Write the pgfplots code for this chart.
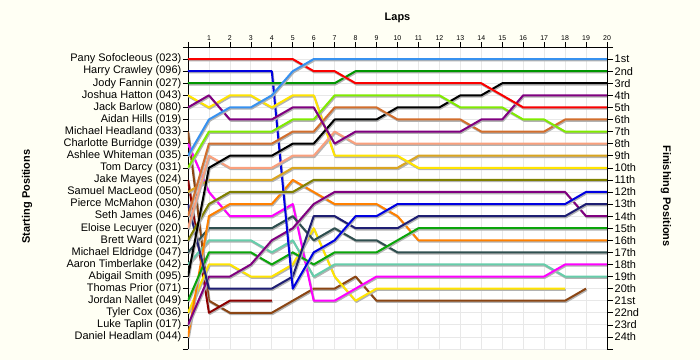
\documentclass[border=0pt]{standalone}
\usepackage{fontspec}
\setmainfont{Liberation Sans}
\usepackage{pgfplots}
\pgfplotsset{compat=1.18}
\definecolor{bgcream}{RGB}{255,255,244}
\definecolor{cRed}{RGB}{250,0,0}
\definecolor{cBlue}{RGB}{0,0,225}
\definecolor{cGreen}{RGB}{0,150,0}
\definecolor{cYellow}{RGB}{255,228,0}
\definecolor{cPurple}{RGB}{128,0,128}
\definecolor{cBrown}{RGB}{139,69,19}
\definecolor{cMagenta}{RGB}{255,0,255}
\definecolor{cSky}{RGB}{55,145,240}
\definecolor{cLawn}{RGB}{128,235,0}
\definecolor{cMaroon}{RGB}{140,0,0}
\definecolor{cGold}{RGB}{218,165,32}
\definecolor{cNavy}{RGB}{30,30,115}
\definecolor{cChoc}{RGB}{210,110,45}
\definecolor{cSalmon}{RGB}{250,160,125}
\definecolor{cOlive}{RGB}{128,128,0}
\definecolor{cSlate}{RGB}{47,79,79}
\definecolor{cAqua}{RGB}{102,205,170}
\definecolor{cBlack}{RGB}{0,0,0}
\definecolor{cGreenB}{RGB}{10,165,10}
\definecolor{cOrange}{RGB}{255,128,0}
\begin{document}
\begin{tikzpicture}
\fill[bgcream] (-188bp,-11bp) rectangle (512bp,349bp);
\begin{axis}[
  scale only axis, width=419bp, height=302bp,
  xmin=0, xmax=20, ymin=0, ymax=25, y dir=reverse,
  axis x line*=top, axis y line*=left,
  axis line style={black, line width=0.8bp, -},
  xtick={0,...,20},
  xticklabels={{},1,2,3,4,5,6,7,8,9,10,11,12,13,14,15,16,17,18,19,20},
  ytick={0,...,25},
  yticklabels={{},Pany Sofocleous (023),Harry Crawley (096),Jody Fannin (027),Joshua Hatton (043),Jack Barlow (080),Aidan Hills (019),Michael Headland (033),Charlotte Burridge (039),Ashlee Whiteman (035),Tom Darcy (031),Jake Mayes (024),Samuel MacLeod (050),Pierce McMahon (030),Seth James (046),Eloise Lecuyer (020),Brett Ward (021),Michael Eldridge (047),Aaron Timberlake (042),Abigail Smith (095),Thomas Prior (071),Jordan Nallet (049),Tyler Cox (036),Luke Taplin (017),Daniel Headlam (044),{}},
  tick align=outside, major tick length=5bp,
  tick style={black, line width=0.6bp},
  grid=major, major grid style={black!9, line width=0.7bp},
  axis background/.style={fill=white},
  xticklabel style={font=\fontsize{7}{8}\selectfont, inner sep=1bp},
  yticklabel style={font=\fontsize{11}{12}\selectfont, inner sep=1.5bp},
  every axis plot/.append style={line width=2bp, line join=round, no markers,
     preaction={draw=black!30, transform canvas={xshift=0.8bp,yshift=-1.3bp}}},
]
\addplot[cBrown] coordinates {(0,7)(1,21)(2,22)(3,22)(4,22)(5,21)(6,20)(7,20)(8,19)(9,21)(10,21)(11,21)(12,21)(13,21)(14,21)(15,21)(16,21)(17,21)(18,21)(19,20)};
\addplot[cMaroon] coordinates {(0,11)(1,22)(2,21)(3,21)(4,21)};
\addplot[cYellow] coordinates {(0,22)(1,18)(2,18)(3,19)(4,19)(5,18)(6,15)(7,19)(8,21)(9,20)(10,20)(11,20)(12,20)(13,20)(14,20)(15,20)(16,20)(17,20)(18,20)};
\addplot[cAqua] coordinates {(0,18)(1,16)(2,16)(3,16)(4,17)(5,16)(6,19)(7,18)(8,18)(9,18)(10,18)(11,18)(12,18)(13,18)(14,18)(15,18)(16,18)(17,18)(18,19)(19,19)(20,19)};
\addplot[cMagenta] coordinates {(0,8)(1,12)(2,14)(3,14)(4,14)(5,13)(6,21)(7,21)(8,20)(9,19)(10,19)(11,19)(12,19)(13,19)(14,19)(15,19)(16,19)(17,19)(18,18)(19,18)(20,18)};
\addplot[cSlate] coordinates {(0,17)(1,15)(2,15)(3,15)(4,15)(5,14)(6,16)(7,15)(8,16)(9,16)(10,17)(11,17)(12,17)(13,17)(14,17)(15,17)(16,17)(17,17)(18,17)(19,17)(20,17)};
\addplot[cOrange] coordinates {(0,24)(1,14)(2,13)(3,13)(4,13)(5,11)(6,12)(7,13)(8,13)(9,13)(10,14)(11,16)(12,16)(13,16)(14,16)(15,16)(16,16)(17,16)(18,16)(19,16)(20,16)};
\addplot[cGreenB] coordinates {(0,21)(1,17)(2,17)(3,17)(4,18)(5,17)(6,18)(7,17)(8,17)(9,17)(10,16)(11,15)(12,15)(13,15)(14,15)(15,15)(16,15)(17,15)(18,15)(19,15)(20,15)};
\addplot[cPurple] coordinates {(0,23)(1,19)(2,19)(3,18)(4,16)(5,15)(6,13)(7,12)(8,12)(9,12)(10,12)(11,12)(12,12)(13,12)(14,12)(15,12)(16,12)(17,12)(18,12)(19,14)(20,14)};
\addplot[cNavy] coordinates {(0,13)(1,20)(2,20)(3,20)(4,20)(5,19)(6,14)(7,14)(8,15)(9,15)(10,15)(11,14)(12,14)(13,14)(14,14)(15,14)(16,14)(17,14)(18,14)(19,13)(20,13)};
\addplot[cBlue] coordinates {(0,2)(1,2)(2,2)(3,2)(4,2)(5,20)(6,17)(7,16)(8,14)(9,14)(10,13)(11,13)(12,13)(13,13)(14,13)(15,13)(16,13)(17,13)(18,13)(19,12)(20,12)};
\addplot[cOlive] coordinates {(0,16)(1,13)(2,12)(3,12)(4,12)(5,12)(6,11)(7,11)(8,11)(9,11)(10,11)(11,11)(12,11)(13,11)(14,11)(15,11)(16,11)(17,11)(18,11)(19,11)(20,11)};
\addplot[cGold] coordinates {(0,12)(1,11)(2,11)(3,11)(4,11)(5,10)(6,10)(7,10)(8,10)(9,10)(10,10)(11,9)(12,9)(13,9)(14,9)(15,9)(16,9)(17,9)(18,9)(19,9)(20,9)};
\addplot[cYellow] coordinates {(0,4)(1,5)(2,4)(3,4)(4,5)(5,4)(6,4)(7,9)(8,9)(9,9)(10,9)(11,10)(12,10)(13,10)(14,10)(15,10)(16,10)(17,10)(18,10)(19,10)(20,10)};
\addplot[cSalmon] coordinates {(0,15)(1,9)(2,10)(3,10)(4,10)(5,9)(6,9)(7,7)(8,8)(9,8)(10,8)(11,8)(12,8)(13,8)(14,8)(15,8)(16,8)(17,8)(18,8)(19,8)(20,8)};
\addplot[cBlack] coordinates {(0,19)(1,10)(2,9)(3,9)(4,9)(5,8)(6,8)(7,6)(8,6)(9,6)(10,5)(11,5)(12,5)(13,4)(14,4)(15,3)(16,3)(17,3)(18,3)(19,3)(20,3)};
\addplot[cChoc] coordinates {(0,14)(1,8)(2,8)(3,8)(4,8)(5,7)(6,7)(7,5)(8,5)(9,5)(10,6)(11,6)(12,6)(13,6)(14,7)(15,7)(16,7)(17,7)(18,6)(19,6)(20,6)};
\addplot[cLawn] coordinates {(0,10)(1,7)(2,7)(3,7)(4,7)(5,6)(6,6)(7,4)(8,4)(9,4)(10,4)(11,4)(12,4)(13,5)(14,5)(15,5)(16,6)(17,6)(18,7)(19,7)(20,7)};
\addplot[cPurple] coordinates {(0,5)(1,4)(2,6)(3,6)(4,6)(5,5)(6,5)(7,8)(8,7)(9,7)(10,7)(11,7)(12,7)(13,7)(14,6)(15,6)(16,4)(17,4)(18,4)(19,4)(20,4)};
\addplot[cGreen] coordinates {(0,3)(1,3)(2,3)(3,3)(4,3)(5,3)(6,3)(7,3)(8,2)(9,2)(10,2)(11,2)(12,2)(13,2)(14,2)(15,2)(16,2)(17,2)(18,2)(19,2)(20,2)};
\addplot[cRed] coordinates {(0,1)(1,1)(2,1)(3,1)(4,1)(5,1)(6,2)(7,2)(8,3)(9,3)(10,3)(11,3)(12,3)(13,3)(14,3)(15,4)(16,5)(17,5)(18,5)(19,5)(20,5)};
\addplot[cSky] coordinates {(0,9)(1,6)(2,5)(3,5)(4,4)(5,2)(6,1)(7,1)(8,1)(9,1)(10,1)(11,1)(12,1)(13,1)(14,1)(15,1)(16,1)(17,1)(18,1)(19,1)(20,1)};
\end{axis}
\begin{axis}[
  scale only axis, width=419bp, height=302bp,
  xmin=0, xmax=20, ymin=0, ymax=25, y dir=reverse,
  axis x line=none, axis y line*=right,
  axis line style={black, line width=0.8bp, -},
  ytick={0,...,25},
  yticklabels={{},1st,2nd,3rd,4th,5th,6th,7th,8th,9th,10th,11th,12th,13th,14th,15th,16th,17th,18th,19th,20th,21st,22nd,23rd,24th,{}},
  tick align=outside, major tick length=6bp,
  tick style={black, line width=0.6bp},
  yticklabel style={font=\fontsize{11}{12}\selectfont, inner sep=1.5bp},
]
\addplot[draw=none] coordinates {(0,1)};
\end{axis}
\node[font=\bfseries\fontsize{11}{13}\selectfont] at (209.5bp,331bp) {Laps};
\node[font=\bfseries\fontsize{11}{13}\selectfont, rotate=90] at (-161bp,152.5bp) {Starting Positions};
\node[font=\bfseries\fontsize{11}{13}\selectfont, rotate=-90] at (478bp,153bp) {Finishing Positions};
\end{tikzpicture}
\end{document}
